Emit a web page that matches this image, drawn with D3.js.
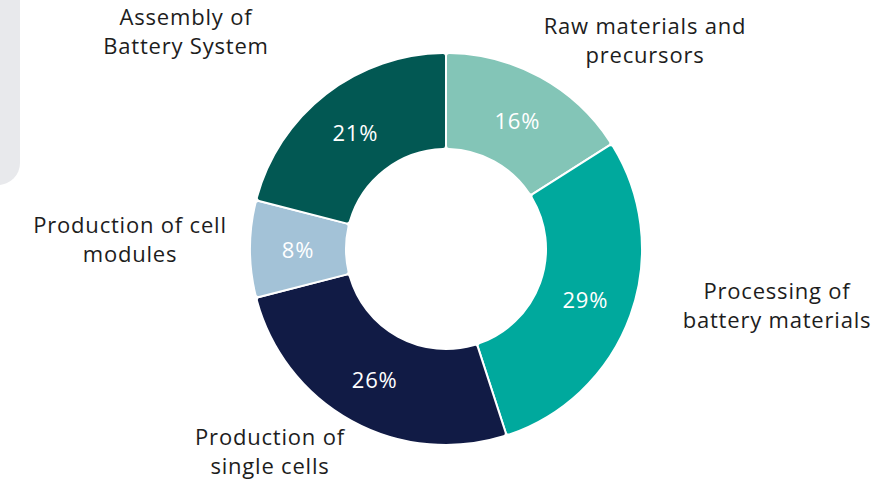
<!DOCTYPE html>
<html>
<head>
<meta charset="utf-8">
<script src="https://cdn.jsdelivr.net/npm/d3@7"></script>
<style>
  body { margin: 0; background: #fff; }
  svg { display: block; font-family: "Open Sans", "Lato", sans-serif; }
</style>
</head>
<body>
<svg id="chart" width="892" height="482"></svg>
<script>
const categories = ["Raw materials and precursors", "Processing of battery materials", "Production of single cells", "Production of cell modules", "Assembly of Battery System"];
const labelLines = [["Raw materials and", "precursors"], ["Processing of", "battery materials"], ["Production of", "single cells"], ["Production of cell", "modules"], ["Assembly of", "Battery System"]];
const shares = [16, 29, 26, 8, 21];
const colors = ["#83c5b7", "#00a99d", "#111b45", "#a3c2d7", "#025853"];

const width = 892, height = 482;
const cx = 446, cy = 249;
const outerR = 196, innerR = 100;

const svg = d3.select("#chart");

// grey panel peeking in at top left
svg.append("path")
  .attr("d", "M-20,0 H20 V163 A22,22 0 0 1 -2,185 H-20 Z")
  .attr("fill", "#e8e9ec");

const data = categories.map((c, i) => ({ name: c, value: shares[i], lines: labelLines[i], color: colors[i] }));

const pie = d3.pie().value(d => d.value).sort(null);
const arc = d3.arc().innerRadius(innerR).outerRadius(outerR).cornerRadius(3);
const arcs = pie(data);

const g = svg.append("g").attr("transform", `translate(${cx},${cy})`);

g.selectAll("path")
  .data(arcs)
  .join("path")
  .attr("d", arc)
  .attr("fill", d => d.data.color)
  .attr("stroke", "#fff")
  .attr("stroke-width", 2);

// percent labels in the ring
const mid = d3.arc().innerRadius((innerR + outerR) / 2).outerRadius((innerR + outerR) / 2);
g.selectAll("text.pct")
  .data(arcs)
  .join("text")
  .attr("class", "pct")
  .attr("transform", d => `translate(${mid.centroid(d)})`)
  .attr("text-anchor", "middle")
  .attr("dy", "0.42em")
  .attr("fill", "#fff")
  .attr("font-size", 22)
  .attr("letter-spacing", 0.8)
  .text(d => d.data.value + "%");

// outer category labels (absolute anchor points of the two-line blocks)
const labelPos = [[645, 26], [777, 291], [270, 437], [130, 225], [186, 17]];
const lineH = 29;
svg.selectAll("text.cat")
  .data(arcs)
  .join("text")
  .attr("class", "cat")
  .attr("text-anchor", "middle")
  .attr("fill", "#1d1d1d")
  .attr("font-size", 22)
  .attr("letter-spacing", 0.8)
  .each(function (d, i) {
    const t = d3.select(this);
    d.data.lines.forEach((ln, j) => {
      t.append("tspan")
        .attr("x", labelPos[i][0])
        .attr("y", labelPos[i][1] + j * lineH)
        .attr("dy", "0.35em")
        .text(ln);
    });
  });
</script>
</body>
</html>
